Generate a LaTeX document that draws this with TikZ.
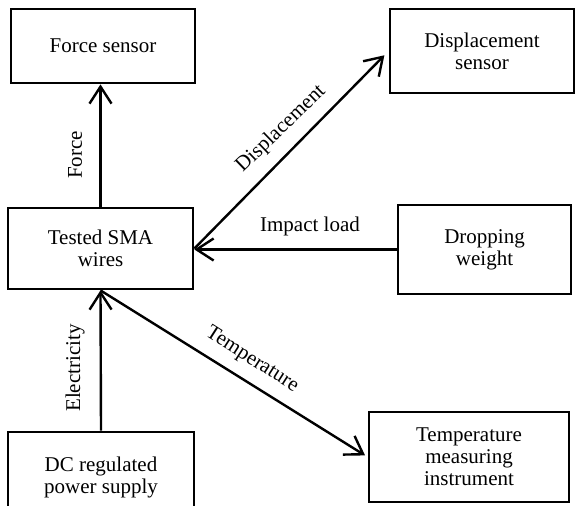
\documentclass[tikz,border=0pt]{standalone}
\usepackage{fontspec}
\setmainfont{Liberation Serif}
\usetikzlibrary{arrows.meta,calc}
\begin{document}
\begin{tikzpicture}[x=1pt,y=-1pt,
  every node/.style={font=\fontsize{21}{22}\selectfont},
  block/.style={draw=black, line width=2.8pt, align=center, inner sep=0pt},
  flow/.style={line width=2.4pt, -{Straight Barb[length=17pt,width=22pt,line width=2.4pt]}},
  lbl/.style={inner sep=1pt}]
\useasboundingbox (0,0) rectangle (577,505);

% blocks
\node[block, minimum width=184pt, minimum height=74pt] (force) at (103,46) {Force sensor};
\node[block, minimum width=184pt, minimum height=84pt] (disp) at (482,51) {Displacement\\sensor};
\node[block, minimum width=185pt, minimum height=81pt] (sma) at (100.5,248.5) {Tested SMA\\wires};
\node[block, minimum width=173pt, minimum height=89pt] (drop) at (484.5,249.5) {Dropping\\weight};
\node[block, minimum width=200pt, minimum height=90pt] (temp) at (469,457) {Temperature\\measuring\\instrument};
\node[block, minimum width=186pt, minimum height=90pt] (dc) at (101,477) {DC regulated\\power supply};

% connectors
\draw[flow] (sma.north) -- (sma.north |- force.south);
\draw[flow, shorten >=6pt] (sma.east) -- (disp.west);
\draw[flow] (drop.west) -- (drop.west -| sma.east);
\draw[flow] (dc.north) -- (sma.south);
\draw[flow, shorten >=3pt] (sma.south) -- (temp.west);

% connector labels
\node[lbl, rotate=90] (lforce) at (75,155) {Force};
\node[lbl, rotate=44] (ldisp) at (281,129) {Displacement};
\node[lbl] (limpact) at (310,226) {Impact load};
\node[lbl, rotate=90] (lelec) at (75,368) {Electricity};
\node[lbl, rotate=-32.6] (ltemp) at (252,360) {Temperature};
\end{tikzpicture}
\end{document}
